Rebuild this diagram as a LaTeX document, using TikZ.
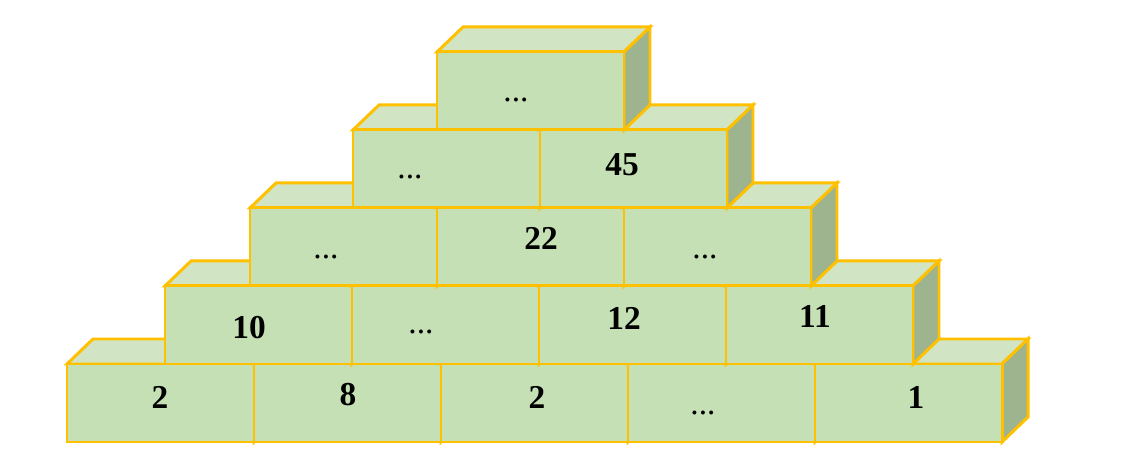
\documentclass[tikz,border=0pt]{standalone}
\usepackage{fontspec}
\setmainfont{Liberation Serif}
\definecolor{brickfront}{HTML}{C5E0B4}
\definecolor{bricktop}{HTML}{D1E4C4}
\definecolor{brickside}{HTML}{9EB48F}
\definecolor{brickedge}{HTML}{FFC000}
\tikzset{
  brickface/.style={draw=brickedge, line width=1.7pt, line join=miter},
  frontface/.style={brickface, fill=brickfront},
  topface/.style={brickface, fill=bricktop},
  sideface/.style={brickface, fill=brickside},
  num/.style={inner sep=0pt, font=\fontsize{19}{22}\selectfont\bfseries},
  dots/.style={inner sep=0pt, font=\fontsize{19}{22}\selectfont}
}

\begin{document}
\begin{tikzpicture}[x=0.02cm, y=0.02cm]
                    \useasboundingbox (0,0) rectangle (1127,466);
                    % rows of bricks, bottom row first
                    \foreach \x/\y/\n in {67/24/5, 165/102/4, 250/180/3, 353/258/2, 437/336/1}{
                        \foreach \i in {1,...,\n}{
                            \pgfmathsetmacro\a{\x+(\i-1)*187}
                            \pgfmathsetmacro\b{\a+187}
                            \filldraw[topface] (\a,\y+78) -- (\a+26,\y+103) -- (\b+26,\y+103) -- (\b,\y+78) -- cycle;
                            \filldraw[sideface] (\b,\y) -- (\b+26,\y+25) -- (\b+26,\y+103) -- (\b,\y+78) -- cycle;
                            \filldraw[frontface] (\a,\y) rectangle (\b,\y+78);
                        }
                    }
                    \node[num] (r1a) at (160,69){2};
                    \node[num] (r1b) at (348,71){8};
                    \node[num] (r1c) at (537,69){2};
                    \node[dots] (r1d) at (703,53){...};
                    \node[num] (r1e) at (916,69){1};
                    \node[num] (r2a) at (249,138){10};
                    \node[dots] (r2b) at (421,134){...};
                    \node[num] (r2c) at (624,148){12};
                    \node[num] (r2d) at (815,150){11};
                    \node[dots] (r3a) at (326,209){...};
                    \node[num] (r3b) at (541,228){22};
                    \node[dots] (r3c) at (705,209){...};
                    \node[dots] (r4a) at (410,289){...};
                    \node[num] (r4b) at (622,301){45};
                    \node[dots] (r5a) at (516,366){...};
                \end{tikzpicture}
\end{document}
